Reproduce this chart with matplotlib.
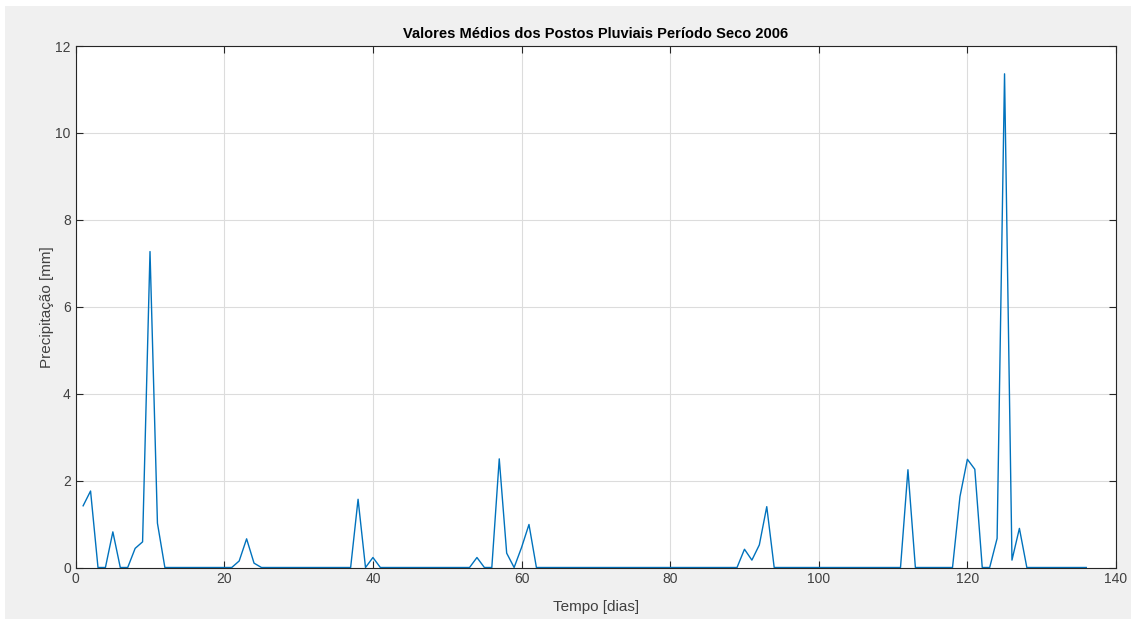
import matplotlib
matplotlib.use('Agg')
import matplotlib.pyplot as plt
from matplotlib.patches import Rectangle
import numpy as np

plt.rcParams['font.family'] = ['Liberation Sans', 'DejaVu Sans']

# precipitacao media diaria (mm), dias 1..136
dias = np.arange(1, 137)
chuva = np.zeros(136)
valores = {
    1: 1.42, 2: 1.76, 5: 0.82, 8: 0.44, 9: 0.59, 10: 7.27, 11: 1.02,
    22: 0.15, 23: 0.66, 24: 0.10,
    38: 1.57, 40: 0.23,
    54: 0.23, 57: 2.50, 58: 0.33, 60: 0.46, 61: 0.99,
    90: 0.42, 91: 0.17, 92: 0.52, 93: 1.40,
    112: 2.25,
    119: 1.63, 120: 2.49, 121: 2.26, 124: 0.67, 125: 11.36, 126: 0.17, 127: 0.90,
}
for d, v in valores.items():
    chuva[d - 1] = v

xticks = [0, 20, 40, 60, 80, 100, 120, 140]
yticks = [0, 2, 4, 6, 8, 10, 12]

fig = plt.figure(figsize=(11.31, 6.19), dpi=100, facecolor='white')
# fundo cinza estilo matlab
fig.patches.append(Rectangle((5 / 1131, 0), 1, 1 - 6 / 619, transform=fig.transFigure,
                             facecolor='#f0f0f0', edgecolor='none', zorder=-10))
ax = fig.add_axes([75.7 / 1131, 1 - 567.5 / 619, (1116 - 75.7) / 1131, (567.5 - 46) / 619])
ax.set_facecolor('white')

ax.plot(dias, chuva, color='#0072BD', linewidth=1.0)

ax.set_xlim(0, 140)
ax.set_ylim(0, 12)
ax.set_xticks(xticks)
ax.set_yticks(yticks)
ax.grid(True, color='#dcdcdc', linewidth=0.8)
ax.set_axisbelow(True)
ax.tick_params(direction='in', top=True, right=True, length=5, width=0.8,
               colors='#262626', labelsize=10, labelcolor='#404040')
for s in ax.spines.values():
    s.set_color('#262626')
    s.set_linewidth(0.8)

ax.set_title('Valores Médios dos Postos Pluviais Período Seco 2006', fontsize=10.5,
             fontweight='bold', color='black', pad=6)
ax.set_xlabel('Tempo [dias]', fontsize=11, color='#404040', labelpad=10)
ax.set_ylabel('Precipitação [mm]', fontsize=11, color='#404040', labelpad=1)

fig.savefig('out.png', dpi=100, facecolor=fig.get_facecolor())
